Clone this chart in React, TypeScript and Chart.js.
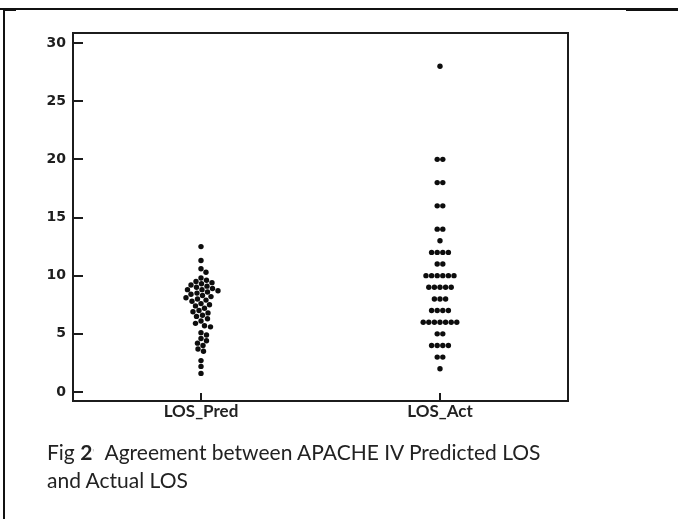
import React, { useEffect, useRef } from "react";
import { Chart, registerables } from "chart.js";

Chart.register(...registerables);

// ---- data ----
const categories = ["LOS_Pred", "LOS_Act"];
const yTicks = [0, 5, 10, 15, 20, 25, 30];

const losPred = [
  12.5, 11.3, 10.6, 10.3,
  9.8, 9.6, 9.5, 9.4, 9.3, 9.2, 9.1, 9.0, 8.9, 8.8, 8.8, 8.7, 8.6, 8.5, 8.4, 8.3, 8.2, 8.1, 8.0, 7.9,
  7.8, 7.6, 7.5, 7.4, 7.2, 7.0, 6.9, 6.8, 6.6, 6.5,
  6.3, 6.1, 5.9, 5.7, 5.6,
  5.1, 4.9, 4.6, 4.4, 4.2, 4.0, 3.7, 3.5,
  2.7, 2.2, 1.6,
];

const losAct = [
  28,
  20, 20,
  18, 18,
  16, 16,
  14, 14,
  13,
  12, 12, 12, 12,
  11, 11,
  10, 10, 10, 10, 10, 10,
  9, 9, 9, 9, 9,
  8, 8, 8,
  7, 7, 7, 7,
  6, 6, 6, 6, 6, 6, 6,
  5, 5,
  4, 4, 4, 4,
  3, 3,
  2,
];

// ---- layout constants (pixels) ----
const PX_PER_X = 239;
const PX_PER_Y = 11.633;
const DOT_R = 2.7;

// Beeswarm for continuous values
function swarm(values: number[], center: number) {
  const sorted = [...values].sort((a, b) => b - a);
  const placed: { px: number; py: number }[] = [];
  const d = 5.8;
  const out: { x: number; y: number }[] = [];
  for (const v of sorted) {
    const py = v * PX_PER_Y;
    let chosen = 0;
    for (let k = 0; k < 200; k++) {
      const cands = k === 0 ? [0] : [k * 0.5, -k * 0.5];
      let ok = false;
      for (const c of cands) {
        if (placed.every((p) => Math.hypot(p.px - c, p.py - py) >= d)) {
          chosen = c;
          ok = true;
          break;
        }
      }
      if (ok) break;
    }
    placed.push({ px: chosen, py });
    out.push({ x: center + chosen / PX_PER_X, y: v });
  }
  return out;
}

// Row layout for repeated integer values
function rows(values: number[], center: number) {
  const groups = new Map<number, number>();
  values.forEach((v) => groups.set(v, (groups.get(v) || 0) + 1));
  const out: { x: number; y: number }[] = [];
  const step = 5.6;
  groups.forEach((n, v) => {
    for (let i = 0; i < n; i++) {
      const off = (i - (n - 1) / 2) * step;
      out.push({ x: center + off / PX_PER_X, y: v });
    }
  });
  return out;
}

const frameTicks = {
  id: "frameTicks",
  afterDraw(chart: any) {
    const { ctx, chartArea: a, scales } = chart;
    ctx.save();
    ctx.strokeStyle = "#1c1c1c";
    ctx.lineWidth = 2;
    ctx.strokeRect(a.left, a.top, a.right - a.left, a.bottom - a.top);
    yTicks.forEach((v) => {
      const y = Math.round(scales.y.getPixelForValue(v));
      ctx.beginPath();
      ctx.moveTo(a.left, y);
      ctx.lineTo(a.left + 10, y);
      ctx.stroke();
    });
    categories.forEach((_, i) => {
      const x = Math.round(scales.x.getPixelForValue(i + 1));
      ctx.beginPath();
      ctx.moveTo(x, a.bottom);
      ctx.lineTo(x, a.bottom - 8);
      ctx.stroke();
    });
    ctx.restore();
  },
};

export default function App() {
  const ref = useRef<HTMLCanvasElement>(null);

  useEffect(() => {
    if (!ref.current) return;
    const pts = [...swarm(losPred, 1), ...rows(losAct, 2)];
    const chart = new Chart(ref.current, {
      type: "scatter",
      data: {
        datasets: [
          {
            data: pts,
            backgroundColor: "#0d0d0d",
            borderWidth: 0,
            pointRadius: DOT_R,
            pointHoverRadius: DOT_R,
          },
        ],
      },
      options: {
        responsive: false,
        animation: false,
        layout: { padding: { left: 33, right: 110, top: 33, bottom: 88 } },
        plugins: { legend: { display: false }, tooltip: { enabled: false } },
        scales: {
          x: {
            type: "linear",
            min: 1 - 128 / PX_PER_X,
            max: 2 + 128 / PX_PER_X,
            grid: { display: false, drawTicks: false },
            border: { display: false },
            afterFit: (s: any) => {
              s.height = 30;
            },
            afterBuildTicks: (s: any) => {
              s.ticks = categories.map((_, i) => ({ value: i + 1 }));
            },
            ticks: {
              autoSkip: false,
              maxRotation: 0,
              padding: 0,
              color: "#222",
              font: { family: "Lato", size: 17, weight: "bold" },
              callback: (v: any) => categories[Number(v) - 1] ?? "",
            },
          },
          y: {
            type: "linear",
            min: -9 / PX_PER_Y,
            max: 30 + 10 / PX_PER_Y,
            grid: { display: false, drawTicks: false },
            border: { display: false },
            afterFit: (s: any) => {
              s.width = 40;
            },
            afterBuildTicks: (s: any) => {
              s.ticks = yTicks.map((v) => ({ value: v }));
            },
            ticks: {
              padding: 7,
              color: "#1e1e1e",
              font: { family: "DejaVu Sans", size: 14, weight: "bold" },
            },
          },
        },
      },
      plugins: [frameTicks],
    });
    return () => chart.destroy();
  }, []);

  return (
    <div
      style={{
        position: "fixed",
        left: 0,
        top: 0,
        width: 678,
        height: 519,
        background: "#fff",
        overflow: "hidden",
      }}
    >
      <canvas ref={ref} width={678} height={519} style={{ position: "absolute", left: 0, top: 0 }} />
      <div style={{ position: "absolute", left: 0, top: 8, width: 626, height: 1.5, background: "#111" }} />
      <div style={{ position: "absolute", left: 626, top: 8, width: 52, height: 2.5, background: "#111" }} />
      <div style={{ position: "absolute", left: 3, top: 9, width: 2, height: 510, background: "#111" }} />
      <div style={{ position: "absolute", left: 3, top: 10, width: 13, height: 1, background: "#111" }} />
      <div
        style={{
          position: "absolute",
          left: 47,
          top: 438,
          fontFamily: "Lato, 'Open Sans', sans-serif",
          fontSize: 21,
          lineHeight: "28px",
          color: "#222",
          whiteSpace: "pre",
        }}
      >
        <div>
          Fig <b>2</b>
          <span style={{ color: "#bbb", fontSize: 10, verticalAlign: "top" }}>&#39;</span>
          {"  Agreement between APACHE IV Predicted LOS"}
        </div>
        <div>and Actual LOS</div>
      </div>
    </div>
  );
}
